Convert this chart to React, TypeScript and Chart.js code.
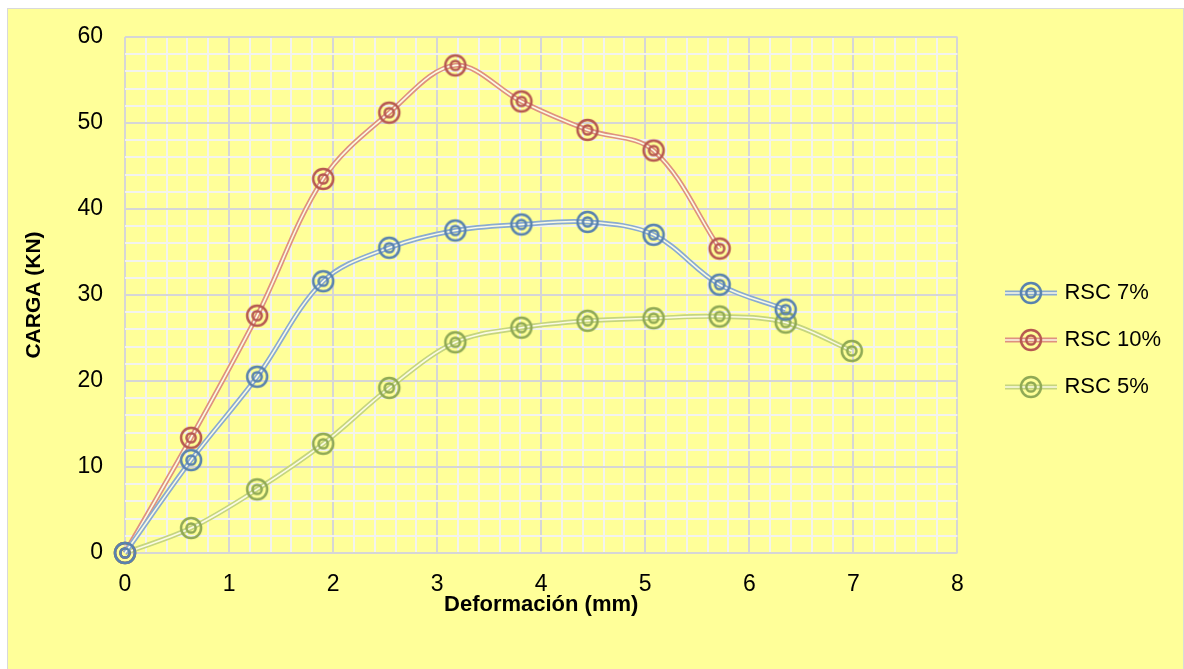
import { useEffect, useRef } from "react";
import { Chart, registerables } from "chart.js";

Chart.register(...registerables);

// Deformation readings (mm) shared by all three mixes
const deformacion = [0, 0.635, 1.27, 1.905, 2.54, 3.175, 3.81, 4.445, 5.08, 5.715, 6.35, 6.985];

// Load (kN) for each mix
const rsc7 = [0, 10.8, 20.5, 31.6, 35.5, 37.5, 38.2, 38.5, 37.0, 31.2, 28.3];
const rsc10 = [0, 13.4, 27.6, 43.5, 51.2, 56.7, 52.5, 49.2, 46.8, 35.4];
const rsc5 = [0, 2.9, 7.4, 12.7, 19.2, 24.5, 26.2, 27.0, 27.3, 27.5, 26.8, 23.5];

const seriesNames = ["RSC 7%", "RSC 10%", "RSC 5%"];
const seriesValues = [rsc7, rsc10, rsc5];

const xMin = 0;
const xMax = 8;
const yMin = 0;
const yMax = 60;

const lineColors = ["#8aabd1", "#df917f", "#c5d57f"];
const ringColors = ["#5882ae", "#b65851", "#8fa955"];
const gapColor = "#fbfbe4";

const FONT = "'Liberation Sans', Arial, sans-serif";
const MAJOR = "#d6d6d6";
const MINOR = "#f3f3ee";

const isWhole = (v: number) => Math.abs(v - Math.round(v)) < 1e-6;

function makeRing(color: string): HTMLCanvasElement {
  const c = document.createElement("canvas");
  c.width = 26;
  c.height = 26;
  const g = c.getContext("2d")!;
  g.strokeStyle = color;
  g.lineWidth = 2.5;
  g.beginPath();
  g.arc(13, 13, 10, 0, Math.PI * 2);
  g.stroke();
  g.beginPath();
  g.arc(13, 13, 4.6, 0, Math.PI * 2);
  g.stroke();
  return c;
}

function makeLegendIcon(line: string, ringColor: string): HTMLCanvasElement {
  const c = document.createElement("canvas");
  c.width = 52;
  c.height = 26;
  const g = c.getContext("2d")!;
  g.lineWidth = 5;
  g.strokeStyle = line;
  g.beginPath();
  g.moveTo(0, 13);
  g.lineTo(52, 13);
  g.stroke();
  g.lineWidth = 1.6;
  g.strokeStyle = gapColor;
  g.beginPath();
  g.moveTo(0, 13);
  g.lineTo(52, 13);
  g.stroke();
  g.drawImage(makeRing(ringColor), 13, 0);
  return c;
}

// Moves the legend block to its place beside the plot
const legendPlacement = {
  id: "legendPlacement",
  afterLayout(chart: any) {
    const lg = chart.legend;
    if (!lg) return;
    lg.left += 26;
    lg.right += 26;
    lg.top = 0;
    lg.bottom = chart.height;
    lg.height = chart.height;
  },
};

export default function App() {
  const canvasRef = useRef<HTMLCanvasElement | null>(null);

  useEffect(() => {
    if (!canvasRef.current) return;
    const rings = ringColors.map((c) => makeRing(c));
    const icons = seriesNames.map((_, i) => makeLegendIcon(lineColors[i], ringColors[i]));

    const datasets: any[] = [];
    seriesValues.forEach((vals, k) => {
      const pts = vals.map((y, i) => ({ x: deformacion[i], y }));
      datasets.push({
        label: seriesNames[k] + " trazo",
        data: pts,
        borderColor: lineColors[k],
        borderWidth: 5,
        pointRadius: 0,
        pointHoverRadius: 0,
        tension: 0.35,
        fill: false,
        clip: false,
        order: 2 * k + 1,
      });
      datasets.push({
        label: seriesNames[k],
        data: pts,
        borderColor: gapColor,
        borderWidth: 1.6,
        pointStyle: rings[k],
        pointRadius: 10,
        pointHoverRadius: 10,
        tension: 0.35,
        fill: false,
        clip: false,
        order: 2 * k,
      });
    });

    const chart = new Chart(canvasRef.current, {
      type: "line",
      data: { datasets },
      plugins: [legendPlacement],
      options: {
        animation: false,
        responsive: false,
        layout: { padding: { top: 28, right: 38, bottom: 0, left: 0 } },
        plugins: {
          tooltip: { enabled: false },
          legend: {
            position: "right",
            labels: {
              usePointStyle: true,
              pointStyleWidth: 45,
              padding: 25,
              color: "#000",
              font: { family: FONT, size: 22 },
              generateLabels: () =>
                seriesNames.map((name, i) => ({
                  text: name,
                  pointStyle: icons[i],
                  fillStyle: "transparent",
                  strokeStyle: "transparent",
                  lineWidth: 0,
                  hidden: false,
                  datasetIndex: 2 * i + 1,
                  fontColor: "#000",
                })),
            },
          },
        },
        scales: {
          x: {
            type: "linear",
            min: xMin,
            max: xMax,
            ticks: {
              stepSize: 0.2,
              autoSkip: false,
              maxTicksLimit: 100,
              maxRotation: 0,
              padding: 18,
              color: "#000",
              font: { family: FONT, size: 23 },
              callback: (v: any) => (isWhole(Number(v)) ? String(Math.round(Number(v))) : ""),
            },
            grid: {
              drawTicks: false,
              lineWidth: 2,
              color: (ctx: any) => (isWhole(ctx.tick?.value ?? 0) ? MAJOR : MINOR),
            },
            border: { display: false },
            title: {
              display: true,
              text: "Deformación (mm)",
              color: "#000",
              font: { family: FONT, size: 22, weight: "bold" },
              padding: { top: 0, bottom: 53 },
            },
            afterFit: (s: any) => {
              s.height = 118;
            },
          },
          y: {
            type: "linear",
            min: yMin,
            max: yMax,
            ticks: {
              stepSize: 2,
              autoSkip: false,
              maxTicksLimit: 100,
              padding: 12,
              color: "#000",
              font: { family: FONT, size: 23 },
              callback: (v: any) => (Number(v) % 10 === 0 ? String(v) : ""),
            },
            grid: {
              drawTicks: true,
              tickLength: 10,
              tickColor: "transparent",
              lineWidth: 2,
              color: (ctx: any) => ((ctx.tick?.value ?? 0) % 10 === 0 ? MAJOR : MINOR),
            },
            border: { display: false },
            title: {
              display: true,
              text: "CARGA (KN)",
              color: "#000",
              font: { family: FONT, size: 21, weight: "bold" },
              padding: { top: 14, bottom: 0 },
            },
            afterFit: (s: any) => {
              s.width = 117;
            },
          },
        },
      },
    } as any);

    return () => chart.destroy();
  }, []);

  return (
    <div
      style={{
        position: "fixed",
        left: 7,
        top: 8,
        width: 1175,
        height: 662,
        border: "1px solid #d9d9d9",
        background: "#FFFF99",
      }}
    >
      <canvas ref={canvasRef} width={1175} height={662} style={{ display: "block" }} />
    </div>
  );
}
